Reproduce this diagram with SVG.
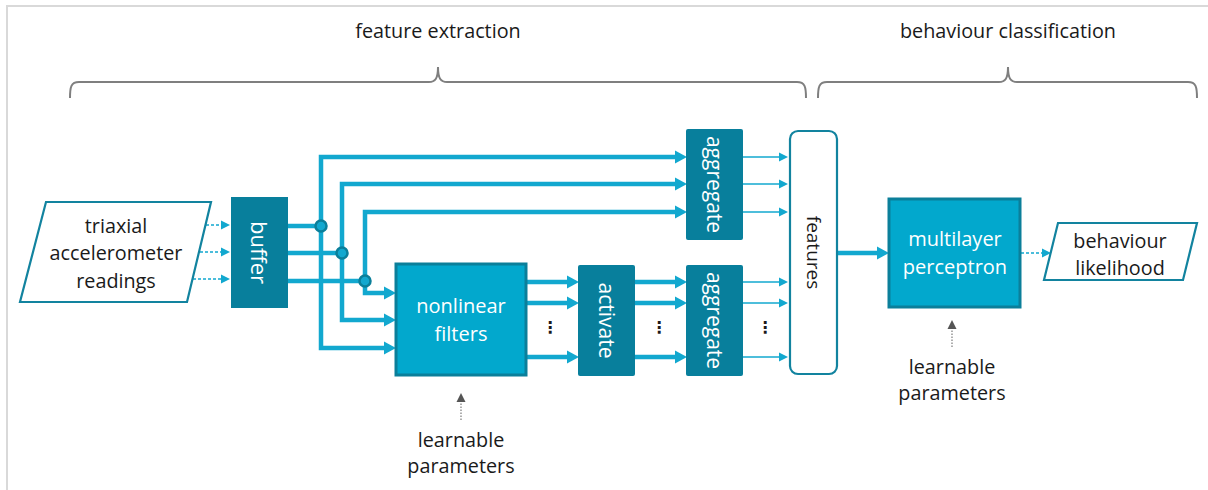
<svg xmlns="http://www.w3.org/2000/svg" width="1208" height="490" viewBox="0 0 1208 490">
  <style>
    .lbl { font-family: "Open Sans", "Liberation Sans", sans-serif; font-size: 19.8px; fill: #1a1a1a; text-anchor: middle; }
    .wlbl { font-family: "Open Sans", "Liberation Sans", sans-serif; font-size: 20px; fill: #ffffff; text-anchor: middle; }
    .vlbl { dominant-baseline: central; font-size: 21px; }
    .dark { fill: #087f9c; }
    .proc { fill: #02a8cd; stroke: #0b7f9a; stroke-width: 3; }
    .io { fill: #ffffff; stroke: #12839f; stroke-width: 2.2; }
    .thick { fill: none; stroke: #12a8cf; stroke-width: 4.5; }
    .thin { fill: none; stroke: #12a8cf; stroke-width: 1.3; }
    .dots { fill: none; stroke: #12a8cf; stroke-width: 1.5; stroke-dasharray: 3 2; }
    .gdots { fill: none; stroke: #7a7a7a; stroke-width: 1.2; stroke-dasharray: 1.5 1.5; }
    .brace { fill: none; stroke: #7f7f7f; stroke-width: 2; }
    .junc { fill: #12a8cf; stroke: #0b7f9a; stroke-width: 2.5; }
    .ell { font-family: "DejaVu Sans", sans-serif; font-size: 16px; fill: #1a1a1a; text-anchor: middle; font-weight: bold; }
  </style>
  <defs>
    <marker id="ahThick" markerUnits="userSpaceOnUse" markerWidth="12" markerHeight="14" refX="2" refY="7" orient="auto">
      <path d="M0,0.5 L12,7 L0,13.5 z" fill="#12a8cf"/>
    </marker>
    <marker id="ahThin" markerUnits="userSpaceOnUse" markerWidth="9" markerHeight="10" refX="1" refY="5" orient="auto">
      <path d="M0,0.5 L9,5 L0,9.5 z" fill="#12a8cf"/>
    </marker>
    <marker id="ahGrey" markerUnits="userSpaceOnUse" markerWidth="9" markerHeight="10" refX="1" refY="5" orient="auto">
      <path d="M0,0.5 L9,5 L0,9.5 z" fill="#555555"/>
    </marker>
  </defs>

  <rect width="1208" height="490" fill="#ffffff"/>
  <!-- page frame -->
  <path d="M7,490 V6 H1208" fill="none" stroke="#d9d9d9" stroke-width="2"/>

  <!-- stage braces and titles -->
  <g id="stage-feature-extraction">
    <text class="lbl" x="438" y="38">feature extraction</text>
    <path class="brace" d="M70,98 C70,87 71,82 79,82 H429 C435,82 438,79 438,67 C438,79 441,82 447,82 H797 C805,82 806,87 806,98"/>
  </g>
  <g id="stage-behaviour-classification">
    <text class="lbl" x="1008" y="38">behaviour classification</text>
    <path class="brace" d="M818,98 C818,87 819,82 827,82 H999 C1005,82 1008,79 1008,67 C1008,79 1011,82 1017,82 H1188 C1196,82 1197,87 1197,98"/>
  </g>

  <!-- connectors -->
  <g id="connectors">
    <!-- sensor readings into buffer -->
    <path class="dots" d="M206,225 H222" marker-end="url(#ahThin)"/>
    <path class="dots" d="M200,252 H222" marker-end="url(#ahThin)"/>
    <path class="dots" d="M193,279 H222" marker-end="url(#ahThin)"/>
    <!-- buffer outputs to the branch points -->
    <path class="thick" d="M288,226 H321"/>
    <path class="thick" d="M288,253 H342"/>
    <path class="thick" d="M288,281 H365"/>
    <!-- branches to the upper aggregate -->
    <path class="thick" d="M321,226 V157 H677" marker-end="url(#ahThick)"/>
    <path class="thick" d="M342,253 V184 H677" marker-end="url(#ahThick)"/>
    <path class="thick" d="M365,281 V212 H677" marker-end="url(#ahThick)"/>
    <!-- branches to the nonlinear filters -->
    <path class="thick" d="M365,281 V293 H386" marker-end="url(#ahThick)"/>
    <path class="thick" d="M342,253 V320 H386" marker-end="url(#ahThick)"/>
    <path class="thick" d="M321,226 V348 H386" marker-end="url(#ahThick)"/>
    <!-- filters to activate -->
    <path class="thick" d="M527,282 H569" marker-end="url(#ahThick)"/>
    <path class="thick" d="M527,303 H569" marker-end="url(#ahThick)"/>
    <path class="thick" d="M527,357 H569" marker-end="url(#ahThick)"/>
    <!-- activate to lower aggregate -->
    <path class="thick" d="M635,282 H677" marker-end="url(#ahThick)"/>
    <path class="thick" d="M635,303 H677" marker-end="url(#ahThick)"/>
    <path class="thick" d="M635,357 H677" marker-end="url(#ahThick)"/>
    <!-- aggregates to features -->
    <path class="thin" d="M743,157 H780" marker-end="url(#ahThin)"/>
    <path class="thin" d="M743,184 H780" marker-end="url(#ahThin)"/>
    <path class="thin" d="M743,212 H780" marker-end="url(#ahThin)"/>
    <path class="thin" d="M743,282 H780" marker-end="url(#ahThin)"/>
    <path class="thin" d="M743,303 H780" marker-end="url(#ahThin)"/>
    <path class="thin" d="M743,357 H780" marker-end="url(#ahThin)"/>
    <!-- features to classifier -->
    <path class="thick" d="M837,253 H879" marker-end="url(#ahThick)"/>
    <!-- classifier to output -->
    <path class="dots" d="M1021,253 H1043" marker-end="url(#ahThin)"/>
    <!-- learnable parameter feeds -->
    <path class="gdots" d="M461,420 V401" marker-end="url(#ahGrey)"/>
    <path class="gdots" d="M952,347 V328" marker-end="url(#ahGrey)"/>
    <!-- branch points -->
    <circle class="junc" cx="321" cy="226" r="5.5"/>
    <circle class="junc" cx="342" cy="253" r="5.5"/>
    <circle class="junc" cx="365" cy="281" r="5.5"/>
    <!-- elided channels -->
    <text class="ell" x="550" y="333">⋮</text>
    <text class="ell" x="659" y="333">⋮</text>
    <text class="ell" x="765" y="333">⋮</text>
  </g>

  <g id="node-readings">
    <path class="io" d="M46,202 H211 L187,302 H20 Z"/>
    <text class="lbl" x="116" y="233">triaxial</text>
    <text class="lbl" x="116" y="260">accelerometer</text>
    <text class="lbl" x="116" y="288">readings</text>
  </g>

  <g id="node-buffer">
    <rect class="dark" x="231" y="197" width="57" height="111"/>
    <text class="wlbl vlbl" transform="translate(259.5,252.5) rotate(90)" style="font-size:22px">buffer</text>
  </g>

  <g id="node-filters">
    <rect class="proc" x="396" y="264" width="130" height="111"/>
    <text class="wlbl" x="461" y="313">nonlinear</text>
    <text class="wlbl" x="461" y="341">filters</text>
  </g>

  <g id="node-activate">
    <rect class="dark" x="578" y="265" width="57" height="111" rx="2"/>
    <text class="wlbl vlbl" transform="translate(606.5,320.5) rotate(90)">activate</text>
  </g>

  <g id="node-aggregate-raw">
    <rect class="dark" x="686" y="129" width="57" height="111" rx="2"/>
    <text class="wlbl vlbl" transform="translate(714.5,184.5) rotate(90)">aggregate</text>
  </g>

  <g id="node-aggregate-filtered">
    <rect class="dark" x="686" y="265" width="57" height="111" rx="2"/>
    <text class="wlbl vlbl" transform="translate(714.5,320.5) rotate(90)">aggregate</text>
  </g>

  <g id="node-features">
    <rect class="io" x="790" y="131" width="47" height="243" rx="8"/>
    <text class="lbl vlbl" transform="translate(813.5,252.5) rotate(90)" style="font-size:19px">features</text>
  </g>

  <g id="node-mlp">
    <rect class="proc" x="889" y="199" width="131" height="108"/>
    <text class="wlbl" x="955" y="246">multilayer</text>
    <text class="wlbl" x="955" y="274">perceptron</text>
  </g>

  <g id="node-likelihood">
    <path class="io" d="M1058,223 H1197 L1183,280 H1044 Z"/>
    <text class="lbl" x="1120" y="248">behaviour</text>
    <text class="lbl" x="1120" y="275">likelihood</text>
  </g>

  <g id="note-filter-params">
    <text class="lbl" x="461" y="447">learnable</text>
    <text class="lbl" x="461" y="473">parameters</text>
  </g>

  <g id="note-mlp-params">
    <text class="lbl" x="952" y="374">learnable</text>
    <text class="lbl" x="952" y="400">parameters</text>
  </g>
</svg>
